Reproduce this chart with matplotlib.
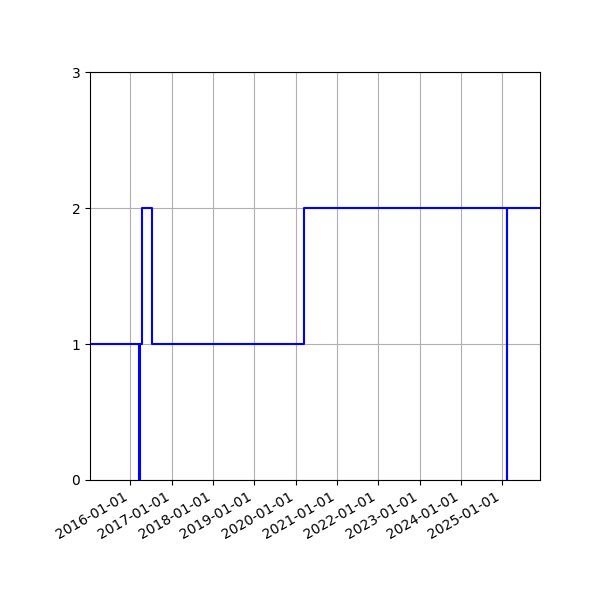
import numpy as np
import matplotlib
matplotlib.use("Agg")
import matplotlib.pyplot as plt
import matplotlib.dates as mdates

# change points of the step series (value holds until next date)
dates = np.array([
    "2015-01-09", "2016-03-21", "2016-03-23", "2016-04-14", "2016-07-11",
    "2020-03-18", "2025-02-09", "2025-02-10", "2025-12-01",
], dtype="datetime64[D]")
values = [1, 0, 1, 2, 1, 2, 0, 2, 2]

fig, ax = plt.subplots(figsize=(6, 6), dpi=100)
ax.step(dates, values, where="post", color="blue")

ax.set_xlim(dates[0], dates[-1])
ax.set_ylim(0, 3)
ax.set_yticks([0, 1, 2, 3])
ax.xaxis.set_major_locator(mdates.YearLocator())
ax.xaxis.set_major_formatter(mdates.DateFormatter("%Y-%m-%d"))
ax.grid(True)
fig.autofmt_xdate()
fig.subplots_adjust(left=0.15, right=0.9, top=0.88, bottom=0.2)

fig.savefig("out.png")
